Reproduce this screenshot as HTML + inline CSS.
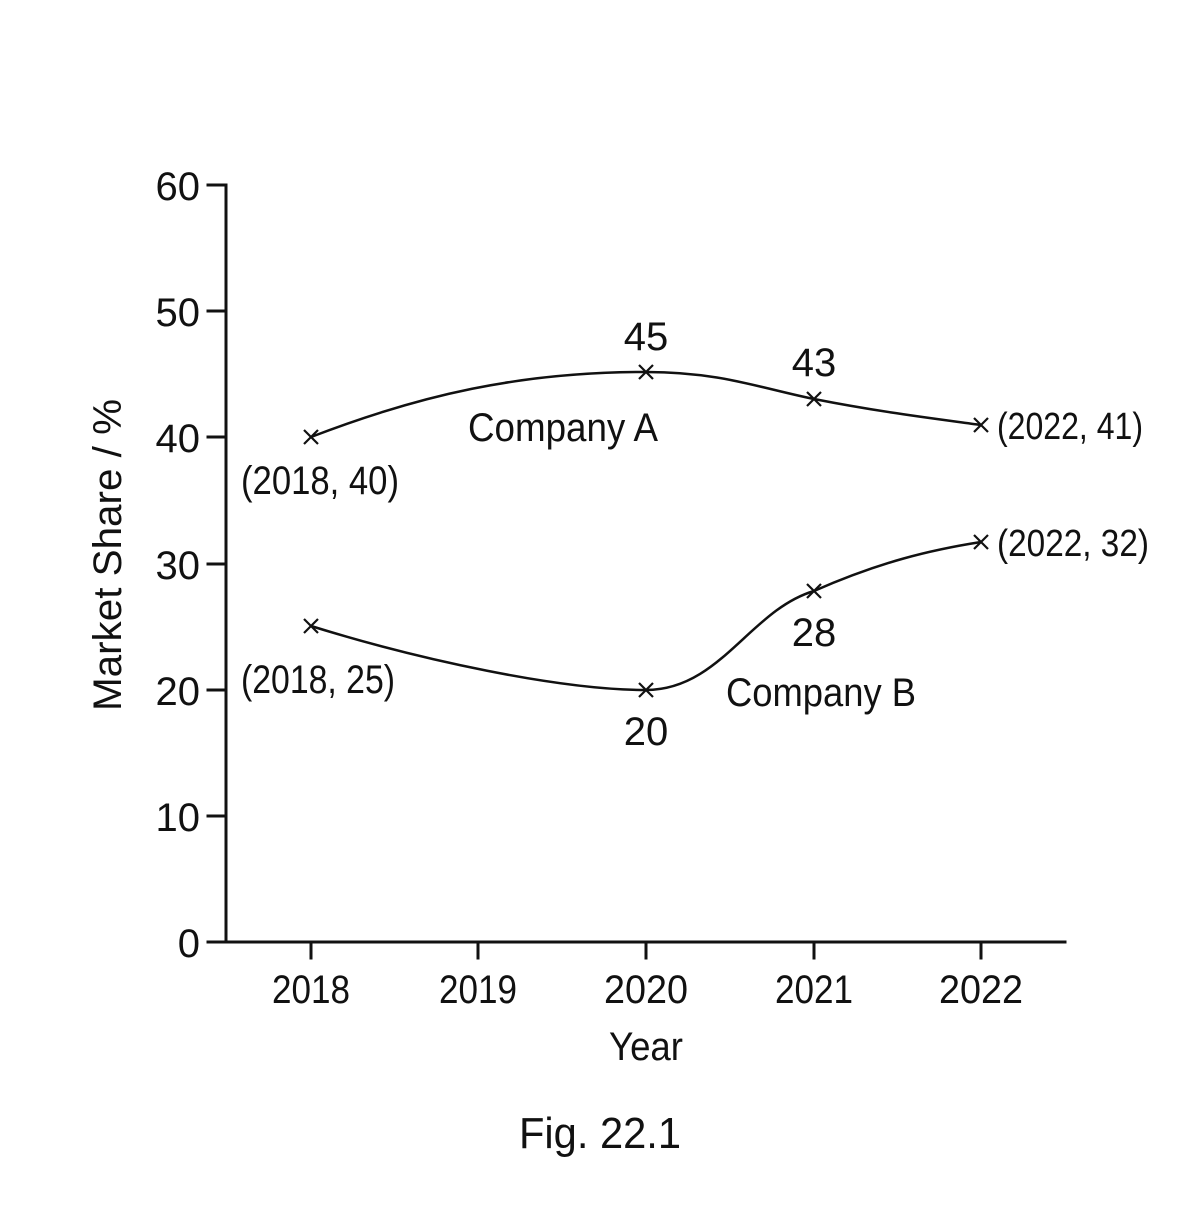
<!DOCTYPE html>
<html><head><meta charset="utf-8"><style>
html,body{margin:0;padding:0;background:#fff}
svg text{font-family:"Liberation Sans Narrow","Liberation Sans",sans-serif;fill:#111}
</style></head><body>
<svg width="1200" height="1200" viewBox="0 0 1200 1200" xmlns="http://www.w3.org/2000/svg">
<g stroke="#111" stroke-width="3" fill="none" stroke-linecap="square">
<path d="M208 185H226V942H1065"/>
<path d="M208 311H226M208 437H226M208 564H226M208 690H226M208 816H226M208 942H226"/>
<path d="M311 942V958M478 942V958M646 942V958M814 942V958M981 942V958"/>
<path stroke-width="2.5" d="M311 437C420 395 520 372 646 372C720 372 760 388 814 399C880 412 930 418 981 425"/>
<path stroke-width="2.5" d="M311 626C420 660 560 690 646 690C720 690 750 610 814 591C880 562 930 550 981 542"/>
</g>
<g stroke="#111" stroke-width="2.2">
<path d="M304 430l14 14M318 430l-14 14M639 365l14 14M653 365l-14 14M807 392l14 14M821 392l-14 14M974 418l14 14M988 418l-14 14"/>
<path d="M304 619l14 14M318 619l-14 14M639 683l14 14M653 683l-14 14M807 584l14 14M821 584l-14 14M974 535l14 14M988 535l-14 14"/>
</g>
<g font-size="40" text-anchor="end">
<text x="200" y="200">60</text><text x="200" y="326">50</text><text x="200" y="452">40</text>
<text x="200" y="579">30</text><text x="200" y="705">20</text><text x="200" y="831">10</text><text x="200" y="957">0</text>
</g>
<g font-size="40" text-anchor="middle" lengthAdjust="spacingAndGlyphs">
<text x="311" y="1003" textLength="78" lengthAdjust="spacingAndGlyphs">2018</text>
<text x="478" y="1003" textLength="78" lengthAdjust="spacingAndGlyphs">2019</text>
<text x="646" y="1003" textLength="84" lengthAdjust="spacingAndGlyphs">2020</text>
<text x="814" y="1003" textLength="78" lengthAdjust="spacingAndGlyphs">2021</text>
<text x="981" y="1003" textLength="84" lengthAdjust="spacingAndGlyphs">2022</text>
<text x="646" y="1060" textLength="74" lengthAdjust="spacingAndGlyphs">Year</text>
<text x="600" y="1148" font-size="44" textLength="162" lengthAdjust="spacingAndGlyphs">Fig. 22.1</text>
<text x="646" y="350">45</text><text x="814" y="376">43</text>
<text x="646" y="745">20</text><text x="814" y="646">28</text>
<text x="563" y="441" textLength="190" lengthAdjust="spacingAndGlyphs">Company A</text>
<text x="821" y="706" textLength="190" lengthAdjust="spacingAndGlyphs">Company B</text>
<text x="320" y="494" textLength="158" lengthAdjust="spacingAndGlyphs">(2018, 40)</text>
<text x="318" y="693" textLength="154" lengthAdjust="spacingAndGlyphs">(2018, 25)</text>
</g>
<g font-size="38">
<text x="997" y="439" textLength="146" lengthAdjust="spacingAndGlyphs">(2022, 41)</text>
<text x="997" y="556" textLength="152" lengthAdjust="spacingAndGlyphs">(2022, 32)</text>
</g>
<text font-size="40" text-anchor="middle" transform="translate(121,555) rotate(-90)" textLength="312" lengthAdjust="spacingAndGlyphs">Market Share / %</text>
</svg>
</body></html>
